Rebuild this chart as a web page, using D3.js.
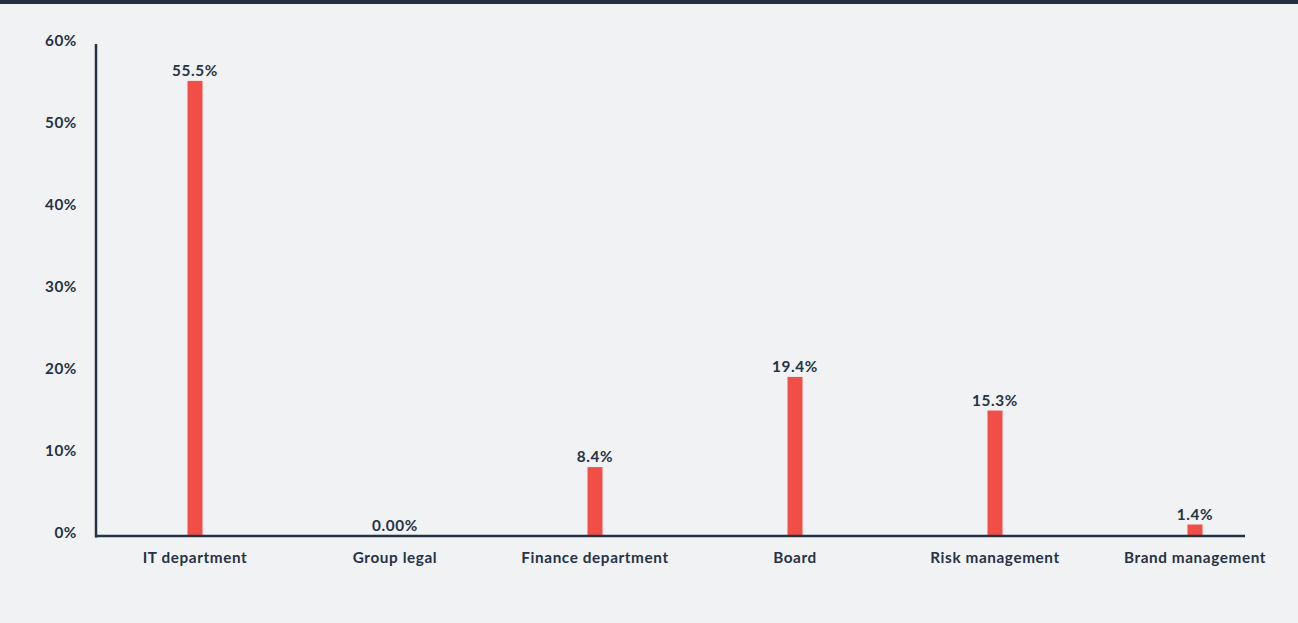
<!DOCTYPE html>
<html>
<head>
<meta charset="utf-8">
<script src="https://cdn.jsdelivr.net/npm/d3@7"></script>
<style>
  html, body { margin: 0; padding: 0; background: #f1f2f4; }
  svg { display: block; font-family: Lato, "Open Sans", sans-serif; }
  .lbl { font-size: 15.3px; font-weight: 700; letter-spacing: 0.6px; font-family: Lato, sans-serif; }
</style>
</head>
<body>
<svg id="chart" width="1298" height="623"></svg>
<script>
// Share of responses by department
const categories = ["IT department", "Group legal", "Finance department", "Board", "Risk management", "Brand management"];
const values = [55.5, 0, 8.4, 19.4, 15.3, 1.4];
const valueLabels = ["55.5%", "0.00%", "8.4%", "19.4%", "15.3%", "1.4%"];
const yTicks = [0, 10, 20, 30, 40, 50, 60];

const W = 1298, H = 623;
const ink = "#253345";
const barColor = "#f04e46";

const svg = d3.select("#chart");
svg.append("rect").attr("width", W).attr("height", H).attr("fill", "#f1f2f4");
// dark strip along the top edge
svg.append("rect").attr("width", W).attr("height", 4).attr("fill", "#22303f");

const x = d3.scaleBand().domain(categories).range([95, 1295]);
const y = d3.scaleLinear().domain([0, 60]).range([536, 44]);
const barW = 15;

// y axis: line plus percent labels
const yAxis = d3.axisLeft(y).tickValues(yTicks).tickSize(0).tickPadding(19).tickFormat(d => d + "%");
const gy = svg.append("g").attr("transform", "translate(96,0)").call(yAxis);
gy.select(".domain").remove();
gy.selectAll("text")
  .attr("class", "lbl")
  .attr("dy", "0.32em")
  .attr("y", -3)
  .attr("fill", ink);

svg.append("line")
  .attr("x1", 96).attr("x2", 96)
  .attr("y1", y(60)).attr("y2", y(0) + 1.5)
  .attr("stroke", ink).attr("stroke-width", 2.5);

// bars
svg.append("g").selectAll("rect")
  .data(values)
  .join("rect")
  .attr("x", (d, i) => x(categories[i]) + x.bandwidth() / 2 - barW / 2)
  .attr("y", d => y(d))
  .attr("width", barW)
  .attr("height", d => y(0) - y(d))
  .attr("fill", barColor);

// x axis baseline
svg.append("line")
  .attr("x1", 95).attr("x2", 1245)
  .attr("y1", y(0)).attr("y2", y(0))
  .attr("stroke", ink).attr("stroke-width", 2.5);

// category labels
const xAxis = d3.axisBottom(x).tickSize(0).tickPadding(16);
const gx = svg.append("g").attr("transform", `translate(0,${y(0)})`).call(xAxis);
gx.select(".domain").remove();
gx.selectAll("text")
  .attr("class", "lbl")
  .attr("fill", ink);

// value labels above bars
svg.append("g").selectAll("text")
  .data(values)
  .join("text")
  .attr("class", "lbl")
  .attr("x", (d, i) => x(categories[i]) + x.bandwidth() / 2)
  .attr("y", d => y(d) - 5)
  .attr("text-anchor", "middle")
  .attr("fill", ink)
  .text((d, i) => valueLabels[i]);
</script>
</body>
</html>
